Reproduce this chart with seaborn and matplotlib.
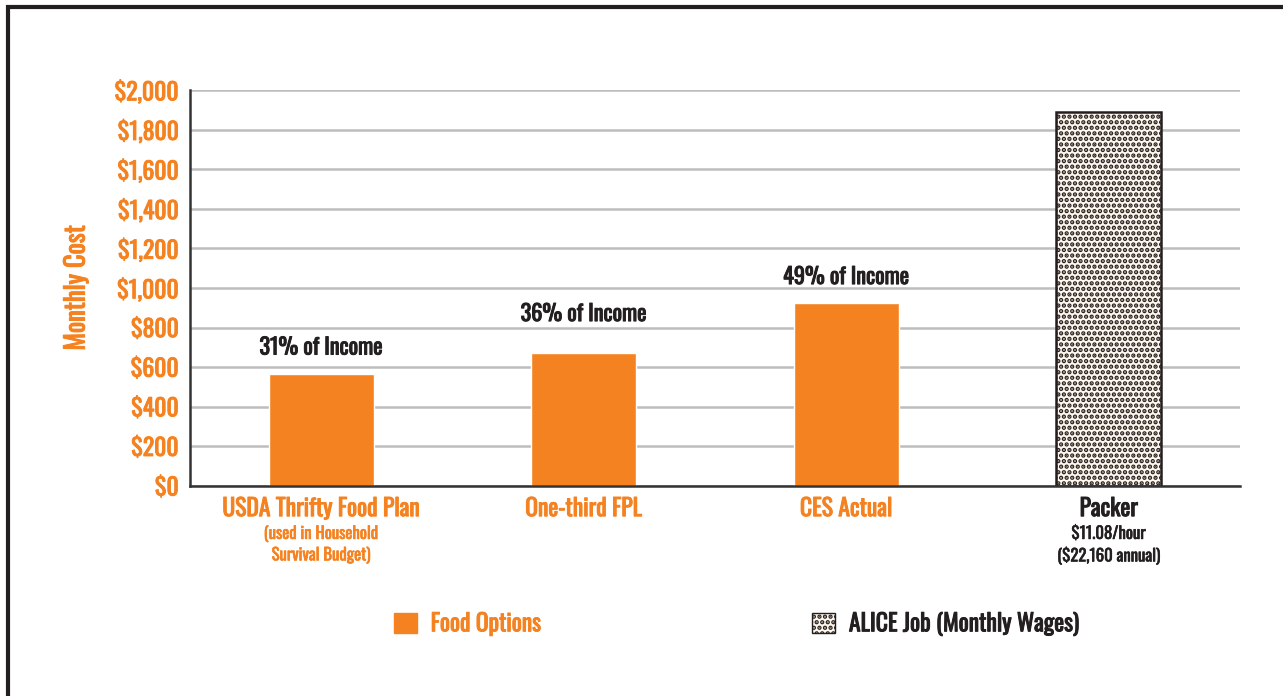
import pandas as pd
import matplotlib.pyplot as plt
import seaborn as sns
from matplotlib import font_manager, patheffects
from matplotlib.patches import Rectangle, Patch

# data
categories = ["USDA Thrifty Food Plan", "One-third FPL", "CES Actual", "Packer"]
sublabels = ["(used in Household\nSurvival Budget)", "", "", "$11.08/hour\n($22,160 annual)"]
values = [566, 672, 922, 1889]
groups = ["Food Options", "Food Options", "Food Options", "ALICE Job (Monthly Wages)"]
pct_labels = ["31% of Income", "36% of Income", "49% of Income", ""]
yticks = [0, 200, 400, 600, 800, 1000, 1200, 1400, 1600, 1800, 2000]

ORANGE = "#F58220"
DARK = "#231F20"

sns.set_style("white")
names = {f.name for f in font_manager.fontManager.ttflist}
prefs = ["Oswald", "Fjalla One", "Antonio", "Pathway Gothic One", "Roboto Condensed",
         "IBM Plex Sans Condensed", "DejaVu Sans"]
family = next(f for f in prefs if f in names)
plt.rcParams["font.family"] = [family, "DejaVu Sans"]
plt.rcParams["font.weight"] = "bold"
plt.rcParams["hatch.linewidth"] = 2.2


def heavy(color, w=0.7):
    # thicken the condensed face a little so it reads like the heavy original
    return [patheffects.withStroke(linewidth=w, foreground=color)]


df = pd.DataFrame({"category": categories, "value": values, "group": groups})

fig = plt.figure(figsize=(12.83, 6.96), dpi=100)
ax = fig.add_axes([0.148, 0.3017, 0.8185, 0.569])

sns.barplot(data=df, x="category", y="value", hue="group", dodge=False,
            palette={"Food Options": ORANGE, "ALICE Job (Monthly Wages)": "#FFF6EC"},
            width=0.4, saturation=1, legend=False, ax=ax)

# patterned wage bar
for p in ax.patches:
    if p.get_height() == values[-1]:
        p.set_hatch("...")
        p.set_edgecolor(DARK)
        p.set_linewidth(1.8)

ax.set_xlim(-0.5, 3.5)
ax.set_ylim(0, 2000)
ax.set_yticks(yticks)
ax.set_yticklabels([f"${v:,}" for v in yticks], color=ORANGE, fontsize=17)
for lbl in ax.get_yticklabels():
    lbl.set_path_effects(heavy(ORANGE))
ax.yaxis.grid(True, color="#BDBDBD", linewidth=1.8)
ax.set_axisbelow(True)
ax.tick_params(axis="both", length=0, pad=8)
for s in ["top", "right"]:
    ax.spines[s].set_visible(False)
for s in ["left", "bottom"]:
    ax.spines[s].set_color("#333333")
    ax.spines[s].set_linewidth(1.8)

ax.set_xlabel("")
ax.set_ylabel("Monthly Cost", color=ORANGE, fontsize=19, labelpad=18,
              path_effects=heavy(ORANGE))
ax.set_xticks(range(len(categories)))
ax.set_xticklabels(categories, fontsize=17)
for lbl, g in zip(ax.get_xticklabels(), groups):
    c = ORANGE if g == "Food Options" else DARK
    lbl.set_color(c)
    lbl.set_path_effects(heavy(c))

for i, (sub, g) in enumerate(zip(sublabels, groups)):
    if sub:
        c = ORANGE if g == "Food Options" else DARK
        ax.annotate(sub, xy=(i, 0), xycoords=("data", "axes fraction"),
                    xytext=(0, -28), textcoords="offset points",
                    ha="center", va="top", fontsize=12, linespacing=1.3,
                    color=c, path_effects=heavy(c, 0.45))

label_offsets = [19, 28, 19]
for i, (v, t) in enumerate(zip(values, pct_labels)):
    if t:
        ax.annotate(t, xy=(i, v), xytext=(0, label_offsets[i]), textcoords="offset points",
                    ha="center", va="center", fontsize=16, color=DARK,
                    path_effects=heavy(DARK))

handles = [Patch(facecolor=ORANGE, edgecolor=ORANGE, label="Food Options"),
           Patch(facecolor="#FFF6EC", edgecolor=DARK, hatch="...",
                 label="ALICE Job (Monthly Wages)")]
leg = fig.legend(handles=handles, loc="center", bbox_to_anchor=(0.574, 0.103),
                 ncol=2, frameon=False, fontsize=17, columnspacing=11.5,
                 handlelength=0.95, handleheight=0.95, handletextpad=0.6)
leg.get_texts()[0].set_color(ORANGE)
leg.get_texts()[1].set_color(DARK)
for t in leg.get_texts():
    t.set_path_effects(heavy(t.get_color()))

# outer frame (only left and top edges visible)
fig.patches.append(Rectangle((0.0066, -0.2), 1.2, 1.19, transform=fig.transFigure,
                             fill=False, edgecolor=DARK, linewidth=3))

fig.savefig("out.png", dpi=100)
